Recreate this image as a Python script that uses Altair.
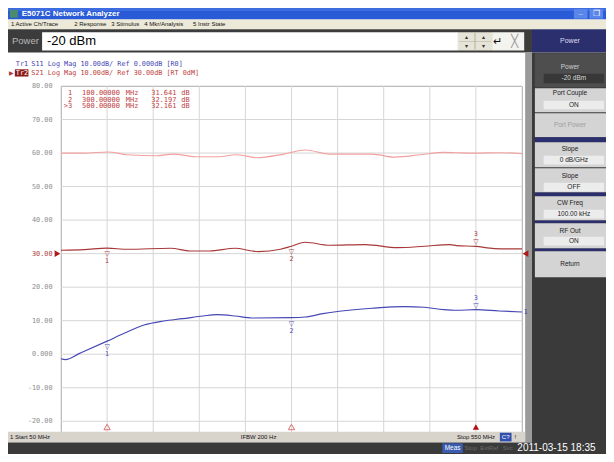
import altair as alt
import pandas as pd

# ---------------- chart values ----------------
grid_freq = [50, 100, 150, 200, 250, 300, 350, 400, 450, 500, 550]
y_ticks = [-20, -10, 0, 10, 20, 30, 40, 50, 60, 70, 80]

mem_freq = [50, 75, 101, 122, 154, 172, 196, 222, 239, 257, 262, 292, 315, 341, 387, 412, 440, 465, 479, 500, 525, 550]
mem_db = [60.0, 60.0, 60.3, 59.5, 59.2, 59.7, 58.9, 58.9, 59.5, 58.8, 58.6, 59.7, 60.9, 59.7, 59.7, 58.8, 59.5, 60.2, 60.1, 60.0, 60.1, 59.8]

s21_freq = [50, 75, 100, 122, 169, 190, 211, 239, 257, 264, 288, 300, 315, 341, 380, 415, 444, 472, 479, 500, 520, 550]
s21_db = [31.0, 31.2, 31.64, 31.3, 31.6, 30.8, 30.8, 31.6, 30.8, 30.6, 31.3, 32.2, 33.4, 32.5, 32.7, 31.8, 32.2, 32.7, 32.4, 32.16, 31.5, 31.4]

s11_freq = [50, 55, 69, 100, 119, 140, 161, 182, 204, 219, 239, 257, 299, 315, 334, 352, 387, 423, 444, 465, 479, 500, 525, 550]
s11_db = [-1.35, -1.6, 0.1, 3.9, 6.3, 8.7, 9.9, 10.6, 11.4, 11.8, 11.4, 10.8, 10.9, 11.1, 12.1, 12.8, 13.7, 14.2, 14.0, 13.3, 13.1, 13.3, 12.9, 12.6]

mk_freq = [100, 300, 500]
mk_s21 = [31.641, 32.197, 32.161]
mk_s11 = [3.9, 10.9, 13.3]
active_marker = 3
ref_level = [30]

menu_items = ["1 Active Ch/Trace", "2 Response", "3 Stimulus", "4 Mkr/Analysis", "5 Instr State"]

# ---------------- styles / layout ----------------
RED = "#a83838"
RED_TXT = "#c04040"
BLUE = "#4646b4"
PINK = "#f4a0a0"
GREY_LBL = "#8c8c8c"
GRID = "#d6d6d6"

SX, SY = 598 / 614, 446 / 462
PL, PT, W, H = 53, 78, 461, 346
PR, PB = 598 - PL - W, 446 - PT - H


def cx(x):
    return round(x * SX - PL, 2)


def cy(y):
    return round(y * SY - PT, 2)


NAVY = "#2c2f6e"
KEY = "#d4d4d4"
BOX = "#ececec"
RECTS = [
    (0, 614, 0, 12, "#2a5bd7"),
    (0, 614, 0, 3, "#3d6de0"),
    (2, 10, 2, 10, "#4c8c6a"),
    (581, 595, 1, 11, "#5a86ea"),
    (597, 611, 1, 11, "#5a86ea"),
    (0, 614, 12, 22, "#ece9d8"),
    (0, 538, 22, 46, "#3c3c3c"),
    (35, 462, 25, 44, "#ffffff"),
    (462, 497, 25, 44, "#e6e4d6"),
    (479, 480, 26, 43, "#b0ae9e"),
    (463, 496, 34.2, 34.8, "#b0ae9e"),
    (497, 530, 25, 44, "#f4f4ee"),
    (538, 614, 22, 46, NAVY),
    (538, 614, 46, 462, "#3a3a3a"),
    (541, 614, 47, 82, "#4e4e4e"),
    (550, 612, 68, 78, "#383838"),
    (541, 614, 83, 108, KEY),
    (550, 612, 96, 105, BOX),
    (541, 614, 109, 134, KEY),
    (541, 614, 134, 139, NAVY),
    (541, 614, 139, 165, KEY),
    (550, 612, 153, 162, BOX),
    (541, 614, 166, 191, KEY),
    (550, 612, 181, 190, BOX),
    (541, 614, 191, 195, NAVY),
    (541, 614, 195, 220, KEY),
    (550, 612, 209, 218, BOX),
    (541, 614, 220, 223, NAVY),
    (541, 614, 223, 249, KEY),
    (550, 612, 237, 246, BOX),
    (541, 614, 249, 252, NAVY),
    (541, 614, 252, 279, KEY),
    (531, 538, 46, 450, "#9a9a9a"),
    (0, 531, 439, 450, "#d8d4cc"),
    (505, 517, 440, 449, "#3050b0"),
    (0, 614, 450, 462, "#3a3a3a"),
    (446, 467, 451, 461, "#3a5cb0"),
    (7, 21, 63.5, 71, "#8c1c1c"),
]

TEXTS = [
    ("E5071C Network Analyzer", 14, 6.5, "#ffffff", 8, "bold_l"),
    ("_", 588, 4.5, "#ffffff", 8, "bold_c"),
    ("❐", 604, 6.5, "#ffffff", 8, "sans_c"),
    ("Power", 4, 34, "#b8b8b8", 9.5, "sans_l"),
    ("-20 dBm", 40, 34.5, "#000000", 13, "sans_l"),
    ("▴", 471, 30, "#333333", 6, "sans_c"),
    ("▾", 471, 39.5, "#333333", 6, "sans_c"),
    ("▴", 488, 30, "#333333", 6, "sans_c"),
    ("▾", 488, 39.5, "#333333", 6, "sans_c"),
    ("↵", 503, 35, "#111111", 11, "sans_c"),
    ("╳", 520, 34.5, "#999999", 12, "sans_c"),
    ("Power", 577, 34, "#dcdcf0", 7, "sans_c"),
    ("Power", 577, 61, "#d0d0d0", 6.5, "sans_c"),
    ("-20 dBm", 581, 73, "#d8d8d8", 6.5, "sans_c"),
    ("Port Couple", 577, 88, "#202020", 6.5, "sans_c"),
    ("ON", 581, 100.5, "#202020", 6.5, "sans_c"),
    ("Port Power", 577, 121, "#a0a0a0", 6.5, "sans_c"),
    ("Slope", 577, 146, "#202020", 6.5, "sans_c"),
    ("0 dB/GHz", 581, 157.5, "#202020", 6.5, "sans_c"),
    ("Slope", 577, 174, "#202020", 6.5, "sans_c"),
    ("OFF", 581, 185.5, "#202020", 6.5, "sans_c"),
    ("CW Freq", 577, 202, "#202020", 6.5, "sans_c"),
    ("100.00 kHz", 581, 213.5, "#202020", 6.5, "sans_c"),
    ("RF Out", 577, 231, "#202020", 6.5, "sans_c"),
    ("ON", 581, 241.5, "#202020", 6.5, "sans_c"),
    ("Return", 577, 265, "#202020", 6.5, "sans_c"),
    ("Tr1", 8, 58.5, BLUE, 6.8, "mono_l"),
    ("S11 Log Mag 10.00dB/ Ref 0.000dB [R0]", 24, 58.5, BLUE, 6.8, "mono_l"),
    ("▶", 1, 67, RED, 6, "sans_l"),
    ("Tr2", 8, 67, "#ffffff", 6.8, "mono_l"),
    ("S21 Log Mag 10.00dB/ Ref 30.00dB [RT 0dM]", 24, 67, RED_TXT, 6.8, "mono_l"),
    ("1 Start 50 MHz", 2, 444.5, "#111111", 6, "sans_l"),
    ("IFBW 200 Hz", 239, 444.5, "#111111", 6, "sans_l"),
    ("Stop 550 MHz", 461, 444.5, "#111111", 6, "sans_l"),
    ("C?", 511, 444.5, "#ffffff", 6, "sans_c"),
    ("!", 520, 444.5, "#111111", 6, "sans_l"),
    ("Meas", 456.5, 456, "#ffffff", 6.5, "sans_c"),
    ("Stop", 475, 456, "#6a6a6a", 6, "sans_c"),
    ("ExtRef", 494, 456, "#6a6a6a", 6, "sans_c"),
    ("Svc", 513, 456, "#6a6a6a", 6, "sans_c"),
    ("2011-03-15 18:35", 523, 456, "#ffffff", 10, "sans_l"),
]

menu_x = [3, 68, 106, 140, 190]
for name, mx in zip(menu_items, menu_x):
    TEXTS.append((name, mx, 17, "#111111", 6, "sans_l"))

# marker readout table (values from the marker arrays)
for i, (f, v) in enumerate(zip(mk_freq, mk_s21)):
    yy = 88 + 7 * i
    lab = (">" if i + 1 == active_marker else "") + str(i + 1)
    TEXTS += [
        (lab, 66, yy, RED_TXT, 7, "mono_r"),
        (f"{f:.5f}", 76, yy, RED_TXT, 7, "mono_l"),
        ("MHz", 121, yy, RED_TXT, 7, "mono_l"),
        (f"{v:.3f}", 147, yy, RED_TXT, 7, "mono_l"),
        ("dB", 178, yy, RED_TXT, 7, "mono_l"),
    ]

FONTS = {
    "sans_l": ("Liberation Sans", "normal", "left"),
    "sans_c": ("Liberation Sans", "normal", "center"),
    "bold_l": ("Liberation Sans", "bold", "left"),
    "bold_c": ("Liberation Sans", "bold", "center"),
    "mono_l": ("DejaVu Sans Mono", "normal", "left"),
    "mono_r": ("DejaVu Sans Mono", "normal", "right"),
}

# ---------------- build layers ----------------
rect_df = pd.DataFrame(
    [dict(x=cx(a), x2=cx(b), y=cy(c), y2=cy(d), fill=f) for a, b, c, d, f in RECTS]
)
rects = alt.Chart(rect_df).mark_rect().encode(
    x=alt.X("x:Q", scale=None, axis=None),
    x2="x2:Q",
    y=alt.Y("y:Q", scale=None, axis=None),
    y2="y2:Q",
    color=alt.Color("fill:N", scale=None, legend=None),
)

text_df = pd.DataFrame(
    [dict(t=t, x=cx(x), y=cy(y), c=c, s=s, g=g) for t, x, y, c, s, g in TEXTS]
)
text_layers = []
for g, (font, weight, align) in FONTS.items():
    sub = text_df[text_df.g == g]
    if len(sub) == 0:
        continue
    text_layers.append(
        alt.Chart(sub)
        .mark_text(font=font, fontWeight=weight, align=align, baseline="middle")
        .encode(
            x=alt.X("x:Q", scale=None, axis=None),
            y=alt.Y("y:Q", scale=None, axis=None),
            text="t:N",
            color=alt.Color("c:N", scale=None, legend=None),
            size=alt.Size("s:Q", scale=None, legend=None),
        )
    )

XS = alt.Scale(domain=[50, 550], nice=False, zero=False)
YS = alt.Scale(domain=[-23.2, 80], nice=False, zero=False)

# grid and y labels, positioned by the scales
grid_h = alt.Chart(pd.DataFrame({"db": y_ticks})).mark_rule(color=GRID, strokeWidth=1).encode(
    y=alt.Y("db:Q", scale=YS, axis=None), x=alt.value(0), x2=alt.value(W)
)
grid_v = alt.Chart(pd.DataFrame({"freq": grid_freq})).mark_rule(color=GRID, strokeWidth=1).encode(
    x=alt.X("freq:Q", scale=XS, axis=None), y=alt.value(0), y2=alt.value(H)
)
ylab_df = pd.DataFrame({
    "db": y_ticks,
    "lab": ["0.000" if v == 0 else f"{v:.2f}" for v in y_ticks],
    "c": ["#b03a3a" if v == ref_level[0] else GREY_LBL for v in y_ticks],
})
y_labels = alt.Chart(ylab_df).mark_text(align="right", baseline="middle", font="DejaVu Sans Mono", fontSize=6.8).encode(
    x=alt.value(-8.5), y=alt.Y("db:Q", scale=YS, axis=None), text="lab:N",
    color=alt.Color("c:N", scale=None, legend=None),
)

trace_df = pd.concat(
    [
        pd.DataFrame({"freq": mem_freq, "db": mem_db, "trace": "mem", "c": PINK, "o": 0}),
        pd.DataFrame({"freq": s21_freq, "db": s21_db, "trace": "S21", "c": RED, "o": 1}),
        pd.DataFrame({"freq": s11_freq, "db": s11_db, "trace": "S11", "c": BLUE, "o": 2}),
    ]
)

traces = alt.Chart(trace_df).mark_line(strokeWidth=1.15, interpolate="monotone").encode(
    x=alt.X("freq:Q", scale=XS, axis=None),
    y=alt.Y("db:Q", scale=YS, axis=None),
    color=alt.Color("c:N", scale=None, legend=None),
    detail="trace:N",
    order="o:Q",
)

mk_rows = []
for vals, col in [(mk_s21, RED), (mk_s11, BLUE)]:
    for i, (f, v) in enumerate(zip(mk_freq, vals)):
        mk_rows.append(dict(freq=f, db=v, num=str(i + 1), c=col, act=(i + 1 == active_marker)))
mk_df = pd.DataFrame(mk_rows)


def glyph(df, txt_field, dy, size):
    return alt.Chart(df).mark_text(dy=dy, fontSize=size, font="DejaVu Sans", baseline="middle").encode(
        x=alt.X("freq:Q", scale=XS, axis=None),
        y=alt.Y("db:Q", scale=YS, axis=None),
        text=txt_field,
        color=alt.Color("c:N", scale=None, legend=None),
    )


inactive = mk_df[~mk_df.act].assign(tri="▽")
active = mk_df[mk_df.act].assign(tri="▽")
mk_layers = [
    glyph(inactive, "tri:N", 6, 7),
    glyph(inactive, "num:N", 13, 6.5),
    glyph(active, "tri:N", -4, 7),
    glyph(active, "num:N", -12, 6.5),
]

ref_df = pd.DataFrame({"db": ref_level})
ref_left = alt.Chart(ref_df).mark_point(shape="triangle-right", filled=True, size=45, color="#b01818", opacity=1).encode(
    x=alt.value(-3.5), y=alt.Y("db:Q", scale=YS, axis=None)
)
ref_right = alt.Chart(ref_df).mark_point(shape="triangle-left", filled=True, size=45, color="#b01818", opacity=1).encode(
    x=alt.value(W + 3.5), y=alt.Y("db:Q", scale=YS, axis=None)
)

stim_df = pd.DataFrame({"freq": mk_freq, "act": [i + 1 == active_marker for i in range(len(mk_freq))]})
stim_open = alt.Chart(stim_df[~stim_df.act]).mark_point(shape="triangle-up", filled=False, size=40, color="#e07070", strokeWidth=1, opacity=1).encode(
    x=alt.X("freq:Q", scale=XS, axis=None), y=alt.value(cy(434))
)
stim_fill = alt.Chart(stim_df[stim_df.act]).mark_point(shape="triangle-up", filled=True, size=40, color="#b01010", opacity=1).encode(
    x=alt.X("freq:Q", scale=XS, axis=None), y=alt.value(cy(434))
)

end_df = pd.DataFrame({"db": [s11_db[-1]], "t": ["1"]})
end_lbl = alt.Chart(end_df).mark_text(align="left", fontSize=7, font="DejaVu Sans", color=BLUE, baseline="middle").encode(
    x=alt.value(W + 1.5), y=alt.Y("db:Q", scale=YS, axis=None), text="t:N"
)

chart = (
    alt.layer(rects, grid_v, grid_h, y_labels, traces, *mk_layers, ref_left, ref_right,
              stim_open, stim_fill, end_lbl, *text_layers)
    .properties(
        width=W, height=H,
        padding={"left": PL, "top": PT, "right": PR, "bottom": PB},
        autosize=alt.AutoSizeParams(type="none"),
        background="#ffffff",
    )
    .configure_view(stroke="#a4a4a4", strokeWidth=1)
)

chart.save("out.html", embed_options={"renderer": "svg", "actions": False})
